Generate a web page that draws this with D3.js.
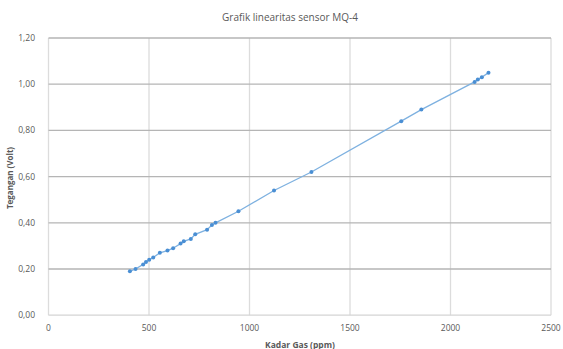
<!DOCTYPE html>
<html><head><meta charset="utf-8">
<script src="https://cdn.jsdelivr.net/npm/d3@7"></script>
<style>body{margin:0;background:#fff}svg{display:block}text{font-family:"Open Sans","Noto Sans",sans-serif}</style>
</head><body><svg id="c" width="563" height="349"></svg>
<script>
const gasPpm = [405,433,471,485,501,521,554,592,620,657,673,708,730,789,813,831,945,1122,1308,1755,1855,2120,2136,2156,2189];
const voltage = [0.19,0.20,0.22,0.23,0.24,0.25,0.27,0.28,0.29,0.31,0.32,0.33,0.35,0.37,0.39,0.40,0.45,0.54,0.62,0.84,0.89,1.01,1.02,1.03,1.05];
const xTicks = [0,500,1000,1500,2000,2500];
const yTicks = [0,0.2,0.4,0.6,0.8,1.0,1.2];
const title = "Grafik linearitas sensor MQ-4";
const xTitle = "Kadar Gas (ppm)";
const yTitle = "Tegangan (Volt)";

const svg = d3.select("#c");
const x = d3.scaleLinear().domain([0,2500]).range([48.5,551]);
const y = d3.scaleLinear().domain([0,1.2]).range([315.2,38]);
const fmt = v => d3.format(".2f")(v).replace(".", ",");

svg.append("g").selectAll("line").data(xTicks).join("line")
  .attr("x1", d=>x(d)).attr("x2", d=>x(d)).attr("y1", y(0)).attr("y2", y(1.2))
  .attr("stroke", "#dcdcdc").attr("stroke-width", 1.3);
svg.append("g").selectAll("line").data(yTicks).join("line")
  .attr("x1", x(0)).attr("x2", x(2500)).attr("y1", d=>y(d)).attr("y2", d=>y(d))
  .attr("stroke", d => d===0 ? "#d4d4d4" : "#b5b5b5").attr("stroke-width", 1.3);

svg.append("g").selectAll("text").data(yTicks).join("text")
  .attr("x", 35).attr("y", d=>y(d)+3).attr("text-anchor","end")
  .attr("font-size", 8.5).attr("fill", "#595959").text(fmt);
svg.append("g").selectAll("text").data(xTicks).join("text")
  .attr("x", d=>x(d)).attr("y", 331).attr("text-anchor","middle")
  .attr("font-size", 8.5).attr("fill", "#595959").text(d=>d);

svg.append("text").attr("x", 290).attr("y", 21).attr("text-anchor","middle")
  .attr("font-size", 10).attr("fill", "#595959").text(title);
svg.append("text").attr("x", 300).attr("y", 348).attr("text-anchor","middle")
  .attr("font-size", 8.5).attr("font-weight","bold").attr("fill", "#595959").text(xTitle);
svg.append("text").attr("transform", "translate(13,178) rotate(-90)").attr("text-anchor","middle")
  .attr("font-size", 8).attr("font-weight","bold").attr("fill", "#595959").text(yTitle);

const pts = gasPpm.map((g,i)=>[g, voltage[i]]);
svg.append("path").datum(pts)
  .attr("d", d3.line().x(d=>x(d[0])).y(d=>y(d[1])))
  .attr("fill","none").attr("stroke","#7eb1e0").attr("stroke-width",1.3);
svg.append("g").selectAll("circle").data(pts).join("circle")
  .attr("cx", d=>x(d[0])).attr("cy", d=>y(d[1])).attr("r", 2)
  .attr("fill","#4a8fd4");
</script></body></html>
